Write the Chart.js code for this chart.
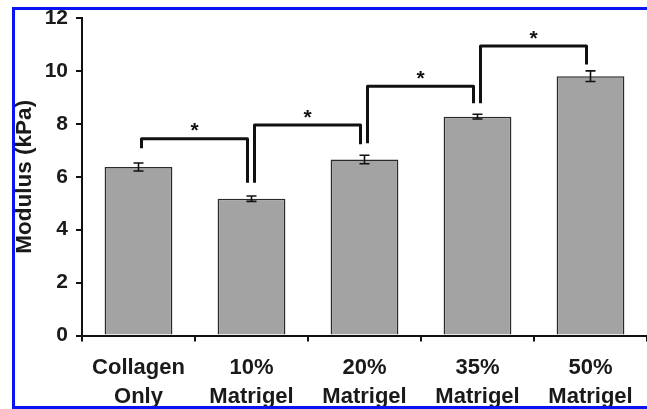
<!DOCTYPE html>
<html>
<head>
<meta charset="utf-8">
<title>Modulus (kPa)</title>
<script src="https://cdn.jsdelivr.net/npm/chart.js@4.4.1/dist/chart.umd.min.js"></script>
<style>
  html, body { margin: 0; padding: 0; background: #fff; }
  #wrap { position: relative; width: 647px; height: 409px; overflow: hidden; }
  #chart { position: absolute; left: 0; top: 0; }
  #frame {
    position: absolute; left: 12px; top: 7px; width: 700px; height: 396px;
    border: 3px solid #0a14f0; border-right: none; pointer-events: none;
  }
</style>
</head>
<body>
<div id="wrap">
  <canvas id="chart" width="647" height="409"></canvas>
  <div id="frame"></div>
</div>
<script>
'use strict';

/* ─── Données ─────────────────────────────────────────────── */
var categories = [['Collagen', 'Only'], ['10%', 'Matrigel'], ['20%', 'Matrigel'], ['35%', 'Matrigel'], ['50%', 'Matrigel']];
var modulus    = [6.37, 5.17, 6.65, 8.27, 9.80];
var modulusErr = [0.15, 0.10, 0.16, 0.09, 0.20];
var yTicks     = [0, 2, 4, 6, 8, 10, 12];

/* brackets de significativité (indices de barres, hauteurs en kPa) */
var bracketFrom   = [0, 1, 2, 3];
var bracketTo     = [1, 2, 3, 4];
var bracketTop    = [7.44, 7.96, 9.42, 10.94];
var bracketLeftY  = [7.08, 5.77, 7.27, 8.78];
var bracketRightY = [5.77, 7.23, 8.78, 10.24];
var bracketMark   = ['*', '*', '*', '*'];

var FONT = '"Liberation Sans", Arial, sans-serif';

/* ─── Barres d'erreur ─────────────────────────────────────── */
var errorBarsPlugin = {
  id: 'errorBars',
  afterDatasetsDraw: function(chart) {
    var ctx  = chart.ctx;
    var yS   = chart.scales.y;
    var meta = chart.getDatasetMeta(0);
    ctx.save();
    ctx.strokeStyle = '#111';
    ctx.lineWidth = 1.6;
    for (var i = 0; i < meta.data.length; i++) {
      var x  = meta.data[i].x;
      var y1 = yS.getPixelForValue(modulus[i] + modulusErr[i]);
      var y2 = yS.getPixelForValue(modulus[i] - modulusErr[i]);
      ctx.beginPath();
      ctx.moveTo(x, y1); ctx.lineTo(x, y2);
      ctx.moveTo(x - 5, y1); ctx.lineTo(x + 5, y1);
      ctx.moveTo(x - 5, y2); ctx.lineTo(x + 5, y2);
      ctx.stroke();
    }
    ctx.restore();
  }
};

/* ─── Brackets + étoiles ──────────────────────────────────── */
var bracketsPlugin = {
  id: 'brackets',
  afterDatasetsDraw: function(chart) {
    var ctx  = chart.ctx;
    var yS   = chart.scales.y;
    var meta = chart.getDatasetMeta(0);
    ctx.save();
    ctx.strokeStyle = '#111';
    ctx.lineWidth = 3;
    ctx.lineJoin = 'round';
    for (var i = 0; i < bracketFrom.length; i++) {
      var xl = meta.data[bracketFrom[i]].x + 3;
      var xr = meta.data[bracketTo[i]].x - 4;
      var yt = yS.getPixelForValue(bracketTop[i]);
      ctx.beginPath();
      ctx.moveTo(xl, yS.getPixelForValue(bracketLeftY[i]));
      ctx.lineTo(xl, yt);
      ctx.lineTo(xr, yt);
      ctx.lineTo(xr, yS.getPixelForValue(bracketRightY[i]));
      ctx.stroke();

      ctx.fillStyle = '#111';
      ctx.font = 'bold 21px ' + FONT;
      ctx.textAlign = 'center';
      ctx.textBaseline = 'middle';
      ctx.fillText(bracketMark[i], (xl + xr) / 2, yt - 7);
    }
    ctx.restore();
  }
};

/* ─── Graphique ───────────────────────────────────────────── */
document.addEventListener('DOMContentLoaded', function() {
  var ctx = document.getElementById('chart');
  new Chart(ctx, {
    type: 'bar',
    data: {
      labels: categories,
      datasets: [{
        data: modulus,
        backgroundColor: '#a3a3a3',
        borderColor: '#2a2a2a',
        borderWidth: 1.5,
        barPercentage: 0.6,
        categoryPercentage: 1
      }]
    },
    options: {
      responsive: false,
      animation: false,
      layout: { padding: 0 },
      plugins: { legend: { display: false }, tooltip: { enabled: false } },
      scales: {
        x: {
          grid: { display: true, drawOnChartArea: false, color: '#111', lineWidth: 2, tickLength: 6 },
          border: { display: true, color: '#111', width: 2 },
          ticks: {
            color: '#1a1a1a', padding: 11, maxRotation: 0, autoSkip: false,
            font: { family: FONT, size: 22, weight: 'bold', lineHeight: 1.36 }
          },
          afterFit: function(scale) { scale.height = 73.5; }
        },
        y: {
          min: 0, max: 12,
          afterBuildTicks: function(scale) {
            scale.ticks = yTicks.map(function(v) { return { value: v }; });
          },
          grid: { display: true, drawOnChartArea: false, color: '#111', lineWidth: 2, tickLength: 6 },
          border: { display: true, color: '#111', width: 2 },
          ticks: {
            color: '#1a1a1a', padding: 8,
            font: { family: FONT, size: 21, weight: 'bold' }
          },
          title: {
            display: true, text: 'Modulus (kPa)', color: '#1a1a1a',
            padding: { top: 11, bottom: 0 },
            font: { family: FONT, size: 22.5, weight: 'bold' }
          },
          afterFit: function(scale) {
            scale.width = 82;
            scale.paddingTop = 18;
          }
        }
      }
    },
    plugins: [errorBarsPlugin, bracketsPlugin]
  });
});
</script>
</body>
</html>
